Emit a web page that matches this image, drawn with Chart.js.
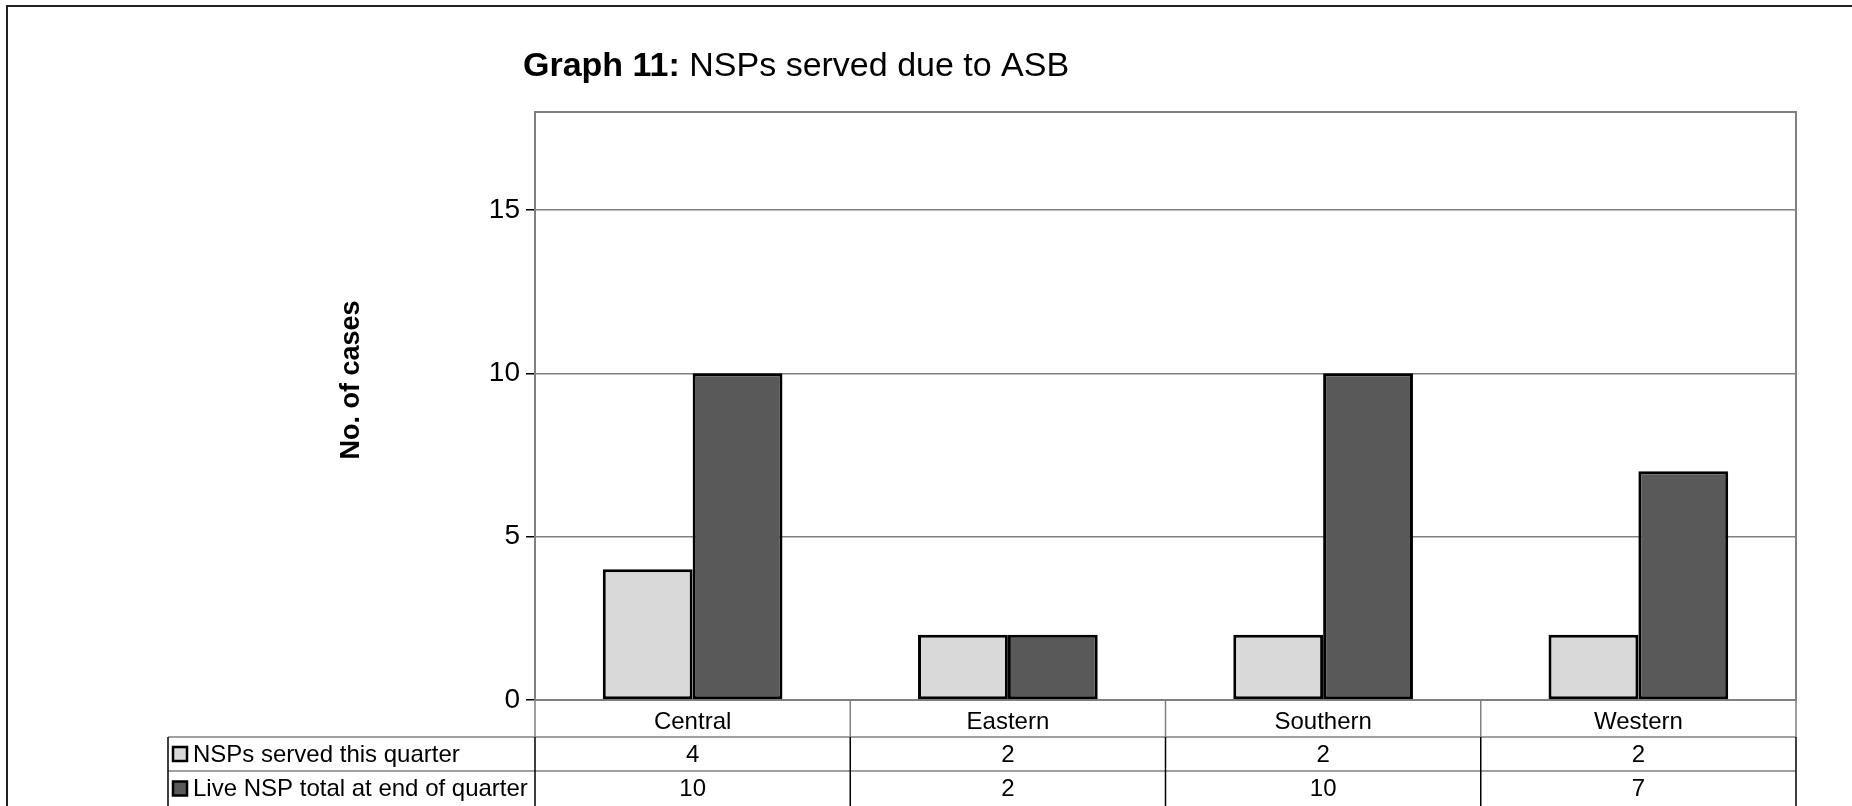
<!DOCTYPE html>
<html>
<head>
<meta charset="utf-8">
<title>Graph 11</title>
<script src="https://cdn.jsdelivr.net/npm/chart.js@4.4.1/dist/chart.umd.min.js"></script>
<style>
  html, body { margin: 0; padding: 0; background: #fff; }
  #wrap { width: 1852px; height: 806px; }
</style>
</head>
<body>
<div id="wrap"><canvas id="chart" width="1852" height="806"></canvas></div>
<script>
// data
const categories = ["Central", "Eastern", "Southern", "Western"];
const servedThisQuarter = [4, 2, 2, 2];
const liveTotal = [10, 2, 10, 7];
const seriesNames = ["NSPs served this quarter", "Live NSP total at end of quarter"];
const seriesColors = ["#d9d9d9", "#595959"];
const yTicks = [0, 5, 10, 15];
const yMax = 18;

const FONT = "'Liberation Sans', Arial, sans-serif";
const GRID = "#808080";

// table under the plot (rows, keys, values) + frame + titles
const tablePlugin = {
    id: "dataTable",
    beforeDraw(chart) {
        const ctx = chart.ctx;
        ctx.save();
        ctx.fillStyle = "#fff";
        ctx.fillRect(0, 0, chart.width, chart.height);
        // outer border, only top and left show in the picture
        ctx.strokeStyle = "#222";
        ctx.lineWidth = 2;
        ctx.beginPath();
        ctx.moveTo(7, chart.height);
        ctx.lineTo(7, 6);
        ctx.lineTo(chart.width, 6);
        ctx.stroke();
        ctx.restore();
    },
    beforeDatasetsDraw(chart) {
        const ctx = chart.ctx;
        const a = chart.chartArea;
        ctx.save();
        ctx.strokeStyle = GRID;
        ctx.lineWidth = 2;
        ctx.strokeRect(a.left, a.top, a.right - a.left, a.bottom - a.top);
        ctx.restore();
    },
    afterDraw(chart) {
        const ctx = chart.ctx;
        const a = chart.chartArea;
        const x = chart.scales.x;
        const half = (x.getPixelForValue(1) - x.getPixelForValue(0)) / 2;
        const tableLeft = 168;
        const row1 = a.bottom, row2 = a.bottom + 37, row3 = a.bottom + 71, rowEnd = a.bottom + 106;

        ctx.save();
        // horizontal rules
        ctx.strokeStyle = GRID;
        ctx.lineWidth = 1.5;
        [row2, row3].forEach(y => {
            ctx.beginPath();
            ctx.moveTo(tableLeft, y);
            ctx.lineTo(a.right, y);
            ctx.stroke();
        });
        // column dividers: grey in category row, black below
        const cols = [a.left];
        categories.forEach((c, i) => cols.push(x.getPixelForValue(i) + half));
        cols.forEach(cx => {
            ctx.strokeStyle = GRID;
            ctx.beginPath();
            ctx.moveTo(cx, row1);
            ctx.lineTo(cx, row2);
            ctx.stroke();
            ctx.strokeStyle = "#000";
            ctx.beginPath();
            ctx.moveTo(cx, row2);
            ctx.lineTo(cx, rowEnd + 4);
            ctx.stroke();
        });
        ctx.strokeStyle = "#000";
        ctx.beginPath();
        ctx.moveTo(tableLeft, rowEnd + 4);
        ctx.lineTo(tableLeft, row2);
        ctx.stroke();

        // legend keys, names and values
        const rows = [[row2, row3], [row3, rowEnd]];
        ctx.font = "24px " + FONT;
        ctx.textBaseline = "middle";
        chart.data.datasets.forEach((ds, d) => {
            const cy = (rows[d][0] + rows[d][1]) / 2;
            ctx.fillStyle = ds.backgroundColor;
            ctx.fillRect(173, cy - 7, 14, 14);
            ctx.strokeStyle = "#000";
            ctx.lineWidth = 2.5;
            ctx.strokeRect(173, cy - 7, 14, 14);
            ctx.fillStyle = "#000";
            ctx.textAlign = "left";
            ctx.fillText(ds.label, 193, cy + 1);
            ctx.textAlign = "center";
            ds.data.forEach((v, i) => {
                ctx.fillText(String(v), x.getPixelForValue(i), cy + 1);
            });
        });

        // chart title, bold lead then normal text
        ctx.textAlign = "left";
        ctx.textBaseline = "alphabetic";
        ctx.font = "bold 34px " + FONT;
        const lead = "Graph 11:";
        ctx.fillText(lead, 523, 76);
        const w = ctx.measureText(lead).width;
        ctx.font = "34px " + FONT;
        ctx.fillText(" NSPs served due to ASB", 523 + w, 76);

        // y axis title
        ctx.translate(352, 380);
        ctx.rotate(-Math.PI / 2);
        ctx.font = "bold 27px " + FONT;
        ctx.textAlign = "center";
        ctx.textBaseline = "middle";
        ctx.fillText("No. of cases", 0, 0);
        ctx.restore();
    }
};

const padLeft = 300;

new Chart(document.getElementById("chart"), {
    type: "bar",
    data: {
        labels: categories,
        datasets: [
            {
                label: seriesNames[0],
                data: servedThisQuarter,
                backgroundColor: seriesColors[0],
                borderColor: "#000",
                borderWidth: 3,
                borderSkipped: false
            },
            {
                label: seriesNames[1],
                data: liveTotal,
                backgroundColor: seriesColors[1],
                borderColor: "#000",
                borderWidth: 3,
                borderSkipped: false
            }
        ]
    },
    options: {
        responsive: false,
        animation: false,
        devicePixelRatio: 1,
        categoryPercentage: 0.57,
        barPercentage: 1.0,
        layout: { padding: { left: padLeft, right: 56, top: 112, bottom: 0 } },
        plugins: {
            legend: { display: false },
            title: { display: false },
            tooltip: { enabled: false }
        },
        scales: {
            x: {
                grid: { display: false, drawTicks: false },
                border: { display: false },
                ticks: {
                    color: "#000",
                    padding: 8,
                    font: { family: FONT, size: 24 }
                },
                afterFit(scale) { scale.height = 106; }
            },
            y: {
                min: 0,
                max: yMax,
                afterBuildTicks(scale) {
                    scale.ticks = yTicks.map(v => ({ value: v }));
                },
                grid: {
                    color: GRID,
                    lineWidth: 1.5,
                    tickColor: "#000",
                    tickLength: 9
                },
                border: { display: false },
                ticks: {
                    color: "#000",
                    padding: 6,
                    font: { family: FONT, size: 28 }
                },
                afterFit(scale) { scale.width = 535 - padLeft; }
            }
        }
    },
    plugins: [tablePlugin]
});
</script>
</body>
</html>
